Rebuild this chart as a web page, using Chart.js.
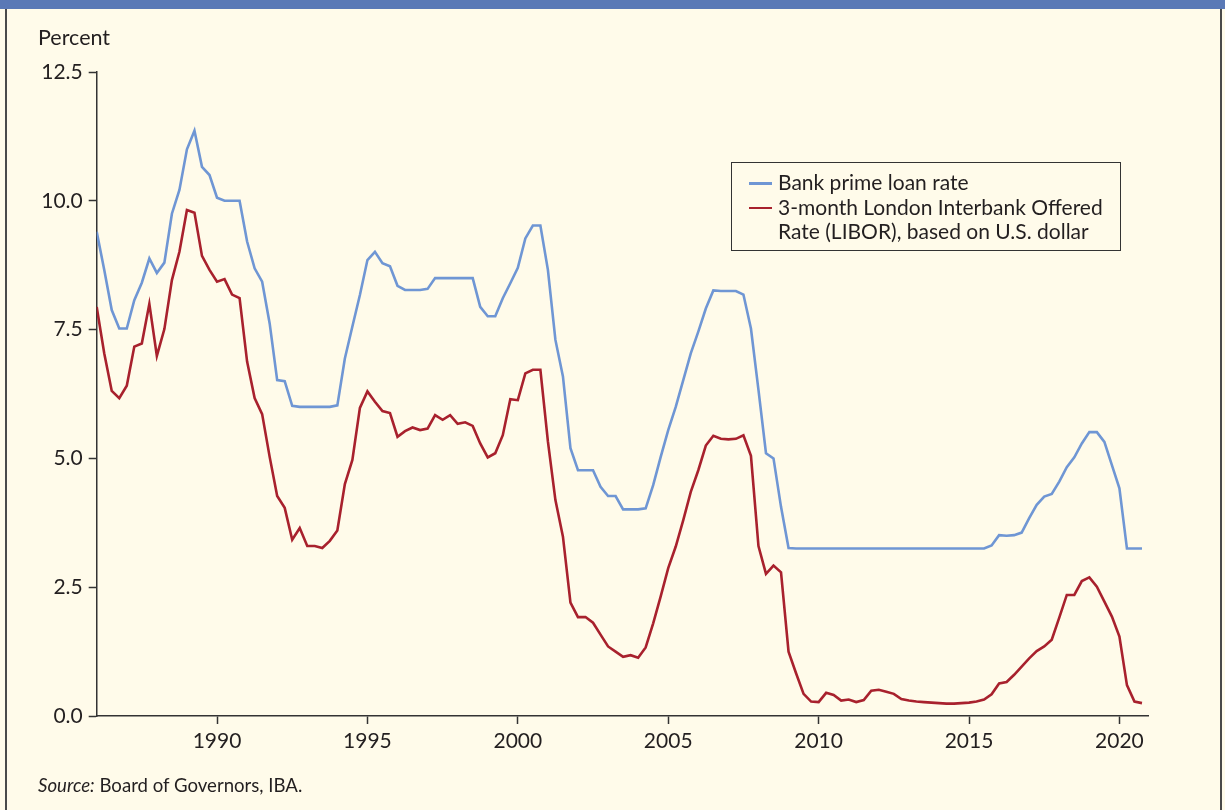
<!DOCTYPE html>
<html>
<head>
<meta charset="utf-8">
<title>Bank prime loan rate and 3-month LIBOR</title>
<script src="https://cdn.jsdelivr.net/npm/chart.js@4.4.1/dist/chart.umd.min.js"></script>
<style>
    html, body {
        margin: 0;
        padding: 0;
        background: #fffbea;
        font-family: Lato, "Open Sans", sans-serif;
        color: #231f20;
    }

    #frame {
        position: relative;
        width: 1225px;
        height: 810px;
        overflow: hidden;
        background: #fffbea;
    }

    /* blue band at the very top, title is cut off above it */
    #topBand {
        position: absolute;
        left: 0;
        top: 0;
        width: 1225px;
        height: 9px;
        background: #5a79b6;
    }

    #frame .side {
        position: absolute;
        top: 9px;
        bottom: 0;
        width: 1.5px;
        background: #4a4a4a;
    }

    #chartBox {
        position: absolute;
        left: 0;
        top: 0;
        width: 1225px;
        height: 810px;
    }

    #unitLabel {
        position: absolute;
        left: 38px;
        top: 24px;
        font-size: 21.5px;
    }

    #sourceNote {
        position: absolute;
        left: 38px;
        top: 774px;
        font-size: 18.6px;
    }

    #legendBox {
        position: absolute;
        left: 731px;
        top: 162px;
        width: 390px;
        height: 89px;
        border: 1px solid #333;
        box-sizing: border-box;
        padding: 7px 0 0 17px;
        font-size: 21px;
        line-height: 24.5px;
    }

    #legendBox .row {
        display: flex;
        align-items: flex-start;
    }

    #legendBox .swatch {
        flex: none;
        width: 23px;
        height: 2.5px;
        margin: 12px 6px 0 0;
    }
</style>
</head>
<body>
<div id="frame">
    <div id="chartBox"><canvas id="rateChart" width="1225" height="810"></canvas></div>
    <div id="topBand"></div>
    <div class="side" style="left:5px"></div>
    <div class="side" style="left:1220px"></div>
    <div id="unitLabel">Percent</div>
    <div id="legendBox"></div>
    <div id="sourceNote"><i>Source:</i> Board of Governors, IBA.</div>
</div>

<script>
// quarterly observations, 1986 Q1 .. 2020 Q4
var firstYear = 1986;

var primeRate = [
    9.40, 8.66, 7.88, 7.52,   // 1986
    7.52, 8.07, 8.41, 8.88,   // 1987
    8.60, 8.80, 9.75, 10.21,  // 1988
    11.00, 11.36, 10.66, 10.50, // 1989
    10.06, 10.00, 10.00, 10.00, // 1990
    9.21, 8.69, 8.43, 7.62,   // 1991
    6.52, 6.50, 6.02, 6.00,   // 1992
    6.00, 6.00, 6.00, 6.00,   // 1993
    6.03, 6.94, 7.56, 8.17,   // 1994
    8.85, 9.01, 8.79, 8.73,   // 1995
    8.35, 8.27, 8.27, 8.27,   // 1996
    8.29, 8.50, 8.50, 8.50,   // 1997
    8.50, 8.50, 8.50, 7.94,   // 1998
    7.76, 7.76, 8.11, 8.40,   // 1999
    8.70, 9.27, 9.52, 9.52,   // 2000
    8.66, 7.30, 6.59, 5.20,   // 2001
    4.77, 4.77, 4.77, 4.45,   // 2002
    4.27, 4.27, 4.01, 4.01,   // 2003
    4.01, 4.03, 4.48, 5.03,   // 2004
    5.55, 6.00, 6.52, 7.04,   // 2005
    7.46, 7.91, 8.26, 8.25,   // 2006
    8.25, 8.25, 8.18, 7.52,   // 2007
    6.33, 5.10, 5.00, 4.06,   // 2008
    3.26, 3.25, 3.25, 3.25,   // 2009
    3.25, 3.25, 3.25, 3.25,   // 2010
    3.25, 3.25, 3.25, 3.25,   // 2011
    3.25, 3.25, 3.25, 3.25,   // 2012
    3.25, 3.25, 3.25, 3.25,   // 2013
    3.25, 3.25, 3.25, 3.25,   // 2014
    3.25, 3.25, 3.25, 3.31,   // 2015
    3.51, 3.50, 3.51, 3.56,   // 2016
    3.84, 4.10, 4.26, 4.31,   // 2017
    4.55, 4.83, 5.02, 5.29,   // 2018
    5.51, 5.51, 5.32, 4.87,   // 2019
    4.42, 3.25, 3.25, 3.25    // 2020
];

var libor3m = [
    7.94, 7.04, 6.31, 6.17,   // 1986
    6.41, 7.17, 7.23, 8.00,   // 1987
    6.99, 7.51, 8.46, 9.01,   // 1988
    9.82, 9.77, 8.93, 8.66,   // 1989
    8.43, 8.48, 8.18, 8.11,   // 1990
    6.88, 6.17, 5.86, 5.03,   // 1991
    4.27, 4.04, 3.42, 3.65,   // 1992
    3.30, 3.30, 3.26, 3.40,   // 1993
    3.60, 4.50, 4.97, 5.98,   // 1994
    6.30, 6.10, 5.92, 5.88,   // 1995
    5.42, 5.53, 5.60, 5.55,   // 1996
    5.58, 5.84, 5.75, 5.84,   // 1997
    5.67, 5.70, 5.63, 5.29,   // 1998
    5.02, 5.10, 5.45, 6.15,   // 1999
    6.13, 6.65, 6.72, 6.72,   // 2000
    5.33, 4.19, 3.48, 2.20,   // 2001
    1.92, 1.92, 1.81, 1.58,   // 2002
    1.35, 1.25, 1.15, 1.18,   // 2003
    1.13, 1.33, 1.80, 2.32,   // 2004
    2.87, 3.29, 3.80, 4.35,   // 2005
    4.77, 5.25, 5.44, 5.38,   // 2006
    5.37, 5.38, 5.45, 5.05,   // 2007
    3.30, 2.76, 2.92, 2.79,   // 2008
    1.25, 0.83, 0.43, 0.28,   // 2009
    0.27, 0.45, 0.41, 0.30,   // 2010
    0.32, 0.27, 0.31, 0.49,   // 2011
    0.51, 0.47, 0.43, 0.33,   // 2012
    0.30, 0.28, 0.27, 0.26,   // 2013
    0.25, 0.24, 0.24, 0.25,   // 2014
    0.26, 0.28, 0.32, 0.42,   // 2015
    0.63, 0.66, 0.80, 0.96,   // 2016
    1.12, 1.26, 1.35, 1.48,   // 2017
    1.91, 2.35, 2.35, 2.62,   // 2018
    2.69, 2.51, 2.22, 1.93,   // 2019
    1.54, 0.60, 0.28, 0.25    // 2020
];

var xTickYears = [1990, 1995, 2000, 2005, 2010, 2015, 2020];
var yTickValues = [0, 2.5, 5, 7.5, 10, 12.5];

var seriesNames = [
    "Bank prime loan rate",
    "3-month London Interbank Offered Rate (LIBOR), based on U.S. dollar"
];
var seriesColors = ["#6f96d4", "#a8212d"];

var axisColor = "#333333";
var textColor = "#231f20";

// x position of each quarter (start of quarter, in years)
function toPoints(values) {
    return values.map(function (v, i) {
        return { x: firstYear + i / 4, y: v };
    });
}

Chart.defaults.font.family = "Lato, 'Open Sans', sans-serif";
Chart.defaults.font.size = 21;
Chart.defaults.color = textColor;

// legend drawn as html next to the chart, fed from the datasets
var htmlLegend = {
    id: 'htmlLegend',
    afterUpdate: function (chart) {
        var box = document.getElementById('legendBox');
        box.innerHTML = '';
        chart.data.datasets.forEach(function (ds) {
            var row = document.createElement('div');
            row.className = 'row';
            var sw = document.createElement('span');
            sw.className = 'swatch';
            sw.style.background = ds.borderColor;
            var txt = document.createElement('span');
            // second label wraps after "Offered"
            txt.innerHTML = ds.label.replace('Offered ', 'Offered<br>');
            row.appendChild(sw);
            row.appendChild(txt);
            box.appendChild(row);
        });
    }
};

new Chart("rateChart", {
    type: "line",
    data: {
        datasets: [{
            label: seriesNames[0],
            data: toPoints(primeRate),
            borderColor: seriesColors[0],
            borderWidth: 2.6,
            pointRadius: 0,
            tension: 0,
            fill: false
        },
        {
            label: seriesNames[1],
            data: toPoints(libor3m),
            borderColor: seriesColors[1],
            borderWidth: 2.6,
            pointRadius: 0,
            tension: 0,
            fill: false
        }]
    },
    options: {
        responsive: false,
        animation: false,
        layout: {
            padding: { top: 72, right: 77, bottom: 0, left: 0 }
        },
        plugins: {
            legend: { display: false },
            tooltip: { enabled: false }
        },
        scales: {
            x: {
                type: 'linear',
                min: 1986,
                max: 2020.95,
                afterFit: function (scale) { scale.height = 94; },
                afterBuildTicks: function (scale) {
                    scale.ticks = xTickYears.map(function (y) { return { value: y }; });
                },
                ticks: {
                    padding: 5,
                    maxRotation: 0,
                    autoSkip: false,
                    callback: function (v) { return String(v); }
                },
                grid: {
                    drawOnChartArea: false,
                    drawTicks: true,
                    tickLength: 8,
                    tickColor: axisColor,
                    tickWidth: 1.5
                },
                border: { display: true, color: axisColor, width: 1.5 }
            },
            y: {
                min: 0,
                max: 12.5,
                afterFit: function (scale) { scale.width = 96.7; },
                afterBuildTicks: function (scale) {
                    scale.ticks = yTickValues.map(function (v) { return { value: v }; });
                },
                ticks: {
                    padding: 6,
                    callback: function (v) { return v.toFixed(1); }
                },
                grid: {
                    drawOnChartArea: false,
                    drawTicks: true,
                    tickLength: 8,
                    tickColor: axisColor,
                    tickWidth: 1.5
                },
                border: { display: true, color: axisColor, width: 1.5 }
            }
        }
    },
    plugins: [htmlLegend]
});
</script>
</body>
</html>
